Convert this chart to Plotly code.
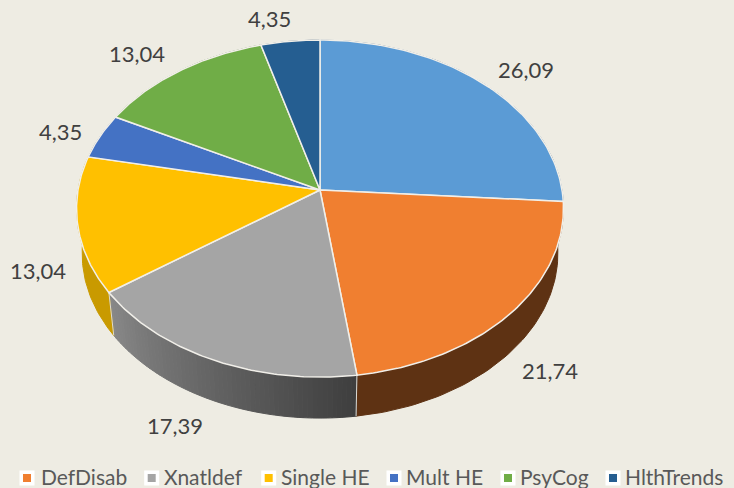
import numpy as np
import plotly.graph_objects as go

categories = ["", "DefDisab", "Xnatldef", "Single HE", "Mult HE", "PsyCog", "HlthTrends"]
values = [26.09, 21.74, 17.39, 13.04, 4.35, 13.04, 4.35]
value_labels = ["26,09", "21,74", "17,39", "13,04", "4,35", "13,04", "4,35"]
colors = ["#5b9bd5", "#f07f30", "#a5a5a5", "#ffc000", "#4472c4", "#70ad47", "#255e91"]
wall_colors = ["#3a5f82", "#5e3213", None, "#c99a00", "#2a4678", "#446a2b", "#16395a"]

BG = "#eeece3"
W, H = 734, 488
CX, CY = 320, 190
A, B, K = 242.0, 166.5, -0.11
WALL_SCALE, WALL_DROP = 0.977, 45.3

label_offsets = [(41, -15), (39, 58), (-38, 66), (-40, 46), (-40, -5), (-42, -18), (-21, -23)]
legend_swatch_x = [27, 151.7, 268.7, 394, 508, 613]
legend_text_x = [40, 163, 280, 405, 519, 624]
LEGEND_Y = 476


def rim(theta, scale=1.0, drop=0.0):
    u, v = np.sin(theta), -np.cos(theta)
    d = 1 + K * v
    return CX + scale * A * u / d, CY + drop + scale * B * v / d


edges = np.concatenate([[0], np.cumsum(values)]) / sum(values) * 2 * np.pi
fig = go.Figure()


def poly(x, y, fill, line, width):
    fig.add_trace(go.Scatter(x=x, y=y, mode="lines", fill="toself", fillcolor=fill,
                             line=dict(color=line, width=width), hoverinfo="skip", showlegend=False))


# side walls, drawn first so that the tops cover the hidden ones
for i, (a, b) in enumerate(zip(edges[:-1], edges[1:])):
    if wall_colors[i] is None:
        n = 60
        steps = np.linspace(a, b, n + 1)
        for j in range(n):
            t = np.linspace(steps[j], steps[j + 1], 5)
            x1, y1 = rim(t)
            x2, y2 = rim(t[::-1], WALL_SCALE, WALL_DROP)
            f = j / (n - 1)
            # the grey wall darkens from left to right, and the sweep runs right to left
            g = int(0x3f + (0x88 - 0x3f) * f)
            c = f"rgb({g},{g},{g})"
            poly(np.r_[x1, x2, x1[0]], np.r_[y1, y2, y1[0]], c, c, 1)
    else:
        t = np.linspace(a, b, 60)
        x1, y1 = rim(t)
        x2, y2 = rim(t[::-1], WALL_SCALE, WALL_DROP)
        poly(np.r_[x1, x2, x1[0]], np.r_[y1, y2, y1[0]], wall_colors[i], wall_colors[i], 1)

# wall seams
for e in [edges[1], edges[2], edges[3]]:
    xs, ys = rim(np.array([e]))
    xe, ye = rim(np.array([e]), WALL_SCALE, WALL_DROP)
    fig.add_trace(go.Scatter(x=[xs[0], xe[0]], y=[ys[0], ye[0]], mode="lines",
                             line=dict(color="#dcdad4", width=1), hoverinfo="skip", showlegend=False))

# slice tops
for i, (a, b) in enumerate(zip(edges[:-1], edges[1:])):
    t = np.linspace(a, b, 90)
    x, y = rim(t)
    poly(np.r_[CX, x, CX], np.r_[CY, y, CY], colors[i], "#f1efe9", 1.5)

# legend
for i in range(1, len(categories)):
    k = i - 1
    fig.add_trace(go.Scatter(x=[legend_swatch_x[k]], y=[LEGEND_Y + 2], mode="markers",
                             marker=dict(symbol="square", size=11.5, color=colors[i],
                                         line=dict(color="white", width=3.5)),
                             hoverinfo="skip", showlegend=False))
    fig.add_annotation(x=legend_text_x[k], y=LEGEND_Y, text=categories[i], showarrow=False,
                       xanchor="left", yanchor="middle", borderpad=0,
                       font=dict(family="Lato", size=21, color="#595959"))

# value labels, placed relative to the rim midpoint of each slice
mids = (edges[:-1] + edges[1:]) / 2
for i, m in enumerate(mids):
    x, y = rim(np.array([m]))
    ox, oy = label_offsets[i]
    fig.add_annotation(x=x[0] + ox, y=y[0] + oy, text=value_labels[i], showarrow=False,
                       font=dict(family="Lato", size=22, color="#404040"))

fig.update_layout(width=W, height=H, margin=dict(l=0, r=0, t=0, b=0),
                  paper_bgcolor=BG, plot_bgcolor=BG, showlegend=False,
                  xaxis=dict(range=[0, W], visible=False, fixedrange=True),
                  yaxis=dict(range=[H, 0], visible=False, fixedrange=True))
fig.write_html("out.html", config=dict(displayModeBar=False),
               post_script="document.body.style.margin='0';document.body.style.overflow='hidden';"
                           "document.body.style.background='" + BG + "';")
